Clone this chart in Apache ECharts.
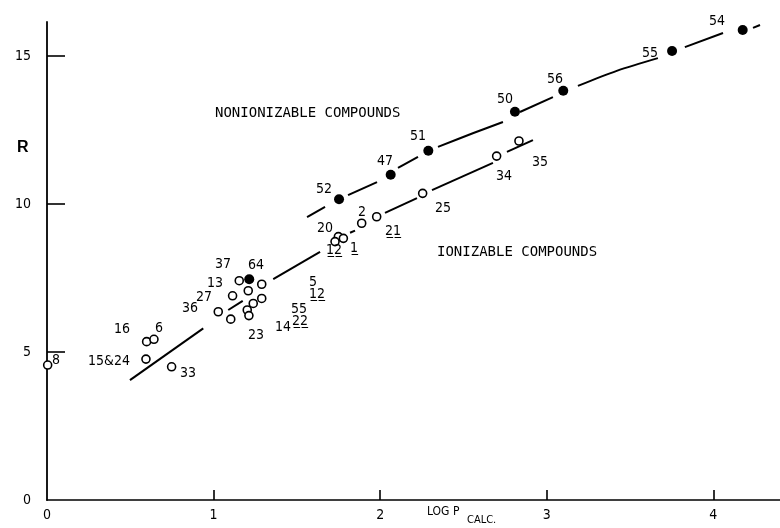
<!DOCTYPE html>
<html>
<head>
<meta charset="utf-8">
<script src="https://cdn.jsdelivr.net/npm/echarts@6/dist/echarts.min.js"></script>
<style>
  html, body { margin: 0; padding: 0; background: #fff; }
  #chart { width: 780px; height: 528px; }
</style>
</head>
<body>
<div id="chart"></div>
<script>
// Axis ticks
const xTicks = [0, 1, 2, 3, 4];
const yTicks = [0, 5, 10, 15];

// Nonionizable compounds (filled dots): [log P calc, R]
const nonionizable = [
  [4.176, 15.88], [3.752, 15.17], [3.099, 13.83], [2.809, 13.12],
  [2.289, 11.80], [2.063, 10.99], [1.753, 10.16], [1.214, 7.46]
];

// Ionizable compounds (open circles): [log P calc, R]
const ionizable = [
  [2.833, 12.13], [2.699, 11.62], [2.255, 10.36], [1.979, 9.57],
  [1.889, 9.35], [1.749, 8.90], [1.779, 8.84], [1.729, 8.73],
  [1.154, 7.41], [1.289, 7.29], [1.208, 7.07], [1.114, 6.90],
  [1.289, 6.81], [1.238, 6.64], [1.028, 6.36], [1.202, 6.42],
  [1.212, 6.23], [1.103, 6.11], [0.598, 5.35], [0.642, 5.43],
  [0.594, 4.76], [0.748, 4.50], [0.004, 4.56]
];

// Broken fit lines, drawn as pieces between the plotted points
const nonionFit = [
  [[1.561, 9.56], [1.669, 9.90]],
  [[1.807, 10.30], [1.981, 10.74]],
  [[2.107, 11.22], [2.227, 11.59]],
  [[2.347, 11.93], [2.560, 12.40], [2.737, 12.77]],
  [[2.839, 13.11], [3.037, 13.61]],
  [[3.187, 13.99], [3.420, 14.50], [3.667, 14.93]],
  [[3.829, 15.30], [4.058, 15.78]],
  [[4.238, 15.95], [4.280, 16.05]]
];
const ionFit = [
  [[0.498, 4.05], [0.938, 5.80]],
  [[1.088, 6.42], [1.175, 6.73]],
  [[1.358, 7.46], [1.639, 8.38]],
  [[1.819, 9.03], [1.849, 9.10]],
  [[2.029, 9.70], [2.221, 10.20]],
  [[2.311, 10.47], [2.677, 11.39]],
  [[2.761, 11.76], [2.917, 12.16]]
];

// Compound numbers written beside the points: [x, y, text]
const U = '\u0332';
const compoundLabels = [
  [4.022, 16.18, '54'], [3.619, 15.10, '55'], [3.049, 14.22, '56'],
  [2.749, 13.55, '50'], [2.227, 12.30, '51'], [2.029, 11.45, '47'],
  [1.663, 10.51, '52'], [1.255, 7.94, '64'],
  [2.959, 11.42, '35'], [2.743, 10.95, '34'], [2.377, 9.86, '25'],
  [2.077, 9.09, '2' + U + '1' + U], [1.891, 9.73, '2'], [1.669, 9.19, '20'],
  [1.723, 8.45, '1' + U + '2' + U], [1.843, 8.51, '1' + U],
  [1.056, 7.97, '37'], [1.008, 7.33, '13'], [0.942, 6.86, '27'],
  [0.858, 6.49, '36'], [0.450, 5.78, '16'], [0.672, 5.81, '6'],
  [0.372, 4.70, '15&24'], [0.846, 4.29, '33'], [1.255, 5.57, '23'],
  [1.417, 5.84, '14'], [1.597, 7.36, '5'], [1.621, 6.96, '1' + U + '2' + U],
  [1.513, 6.45, '55'], [1.519, 6.05, '2' + U + '2' + U], [0.054, 4.73, '8']
];

const INK = '#000';
const NUM_FONT = '"DejaVu Sans Condensed", "Liberation Sans Narrow", "DejaVu Sans", sans-serif';
const MONO_FONT = '"DejaVu Sans Mono", "Liberation Mono", monospace';

const series = [];

nonionFit.concat(ionFit).forEach(function (seg) {
  series.push({
    type: 'line',
    data: seg,
    symbol: 'none',
    smooth: 0.3,
    silent: true,
    lineStyle: { color: INK, width: 2 },
    z: 2
  });
});

series.push({
  type: 'scatter',
  data: ionizable,
  symbol: 'circle',
  symbolSize: 8,
  itemStyle: { color: '#fff', borderColor: INK, borderWidth: 1.6, opacity: 1 },
  z: 3
});

series.push({
  type: 'scatter',
  data: nonionizable,
  symbol: 'circle',
  symbolSize: 10,
  itemStyle: { color: INK, opacity: 1 },
  z: 4
});

series.push({
  type: 'scatter',
  clip: false,
  silent: true,
  symbolSize: 0,
  itemStyle: { opacity: 1 },
  data: compoundLabels.map(function (d) { return { value: [d[0], d[1]], name: d[2] }; }),
  label: {
    show: true,
    position: 'inside',
    formatter: function (p) { return p.name; },
    color: INK,
    opacity: 1,
    fontSize: 14,
    fontFamily: NUM_FONT
  },
  z: 5
});

const chart = echarts.init(document.getElementById('chart'), null, { renderer: 'canvas' });
chart.setOption({
  animation: false,
  backgroundColor: '#fff',
  grid: { left: 47, right: 0, top: 22, bottom: 28 },
  xAxis: {
    type: 'value',
    min: 0,
    max: 4.4,
    interval: 1,
    splitLine: { show: false },
    axisLine: { onZero: false, lineStyle: { color: INK, width: 1.6 } },
    axisTick: { inside: true, length: 10, customValues: xTicks.slice(1), lineStyle: { color: INK, width: 1.6 } },
    axisLabel: { customValues: xTicks, margin: 8, color: INK, fontSize: 14, fontFamily: NUM_FONT }
  },
  yAxis: {
    type: 'value',
    min: 0,
    max: 16.15,
    interval: 5,
    splitLine: { show: false },
    axisLine: { onZero: false, lineStyle: { color: INK, width: 1.8 } },
    axisTick: { inside: true, length: 18, customValues: yTicks.slice(1), lineStyle: { color: INK, width: 1.6 } },
    axisLabel: { customValues: yTicks, margin: 16, color: INK, fontSize: 14, fontFamily: NUM_FONT }
  },
  graphic: [
    {
      type: 'text', left: 17, top: 140,
      style: { text: 'R', fill: INK, font: 'bold 16px "Liberation Sans", Arial, sans-serif' }
    },
    {
      type: 'text', left: 215, top: 106,
      style: { text: 'NONIONIZABLE COMPOUNDS', fill: INK, font: '14px ' + MONO_FONT }
    },
    {
      type: 'text', left: 437, top: 245,
      style: { text: 'IONIZABLE COMPOUNDS', fill: INK, font: '14px ' + MONO_FONT }
    },
    {
      type: 'text', left: 427, top: 506,
      style: { text: 'LOG P', fill: INK, font: '12px ' + NUM_FONT }
    },
    {
      type: 'text', left: 467, top: 515,
      style: { text: 'CALC.', fill: INK, font: '11px ' + NUM_FONT }
    }
  ],
  series: series
});
</script>
</body>
</html>
